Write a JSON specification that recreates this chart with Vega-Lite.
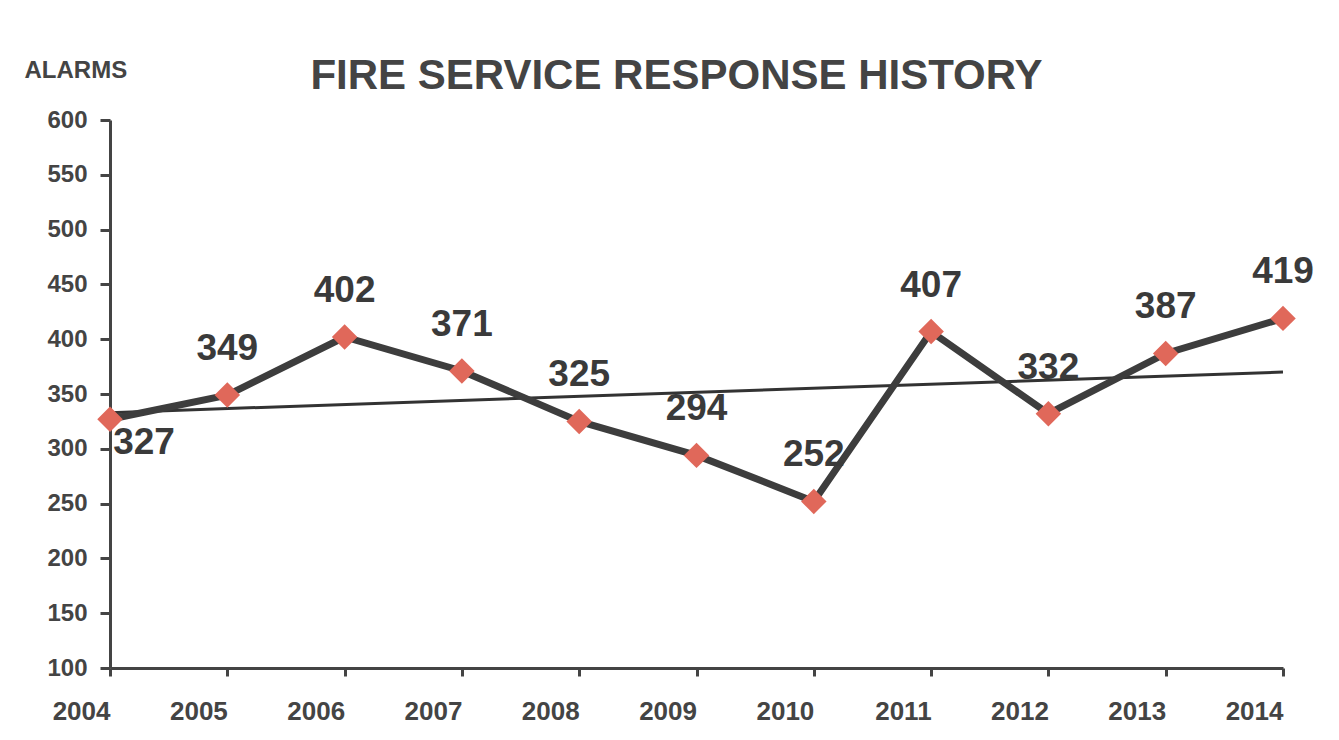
{
  "$schema": "https://vega.github.io/schema/vega-lite/v6.json",
  "width": 1173,
  "height": 548,
  "autosize": {"type": "none"},
  "padding": {"left": 110, "top": 120, "right": 56, "bottom": 72},
  "background": "white",
  "title": {
    "text": "FIRE SERVICE RESPONSE HISTORY",
    "font": "Liberation Sans",
    "fontSize": 42,
    "fontWeight": "bold",
    "color": "#444444",
    "anchor": "middle",
    "dx": -20,
    "offset": -40
  },
  "datasets": {
    "alarms": [
      {"year": "2004", "alarms": 327},
      {"year": "2005", "alarms": 349},
      {"year": "2006", "alarms": 402},
      {"year": "2007", "alarms": 371},
      {"year": "2008", "alarms": 325},
      {"year": "2009", "alarms": 294},
      {"year": "2010", "alarms": 252},
      {"year": "2011", "alarms": 407},
      {"year": "2012", "alarms": 332},
      {"year": "2013", "alarms": 387},
      {"year": "2014", "alarms": 419}
    ],
    "trend": [
      {"year": "2004", "trend": 333},
      {"year": "2014", "trend": 370}
    ]
  },
  "config": {
    "view": {"stroke": null},
    "font": "Liberation Sans"
  },
  "layer": [
    {
      "data": {"name": "trend"},
      "mark": {"type": "line", "color": "#333333", "strokeWidth": 3},
      "encoding": {
        "x": {"field": "year", "type": "ordinal"},
        "y": {"field": "trend", "type": "quantitative"}
      }
    },
    {
      "data": {"name": "alarms"},
      "mark": {"type": "line", "color": "#3d3d3d", "strokeWidth": 7},
      "encoding": {
        "x": {
          "field": "year",
          "type": "ordinal",
          "scale": {"type": "point", "padding": 0},
          "axis": {
            "title": null,
            "labelAngle": 0,
            "labelFont": "Liberation Sans",
            "labelFontSize": 26,
            "labelFontWeight": "bold",
            "labelColor": "#444444",
            "labelPadding": 22,
            "labelBaseline": "top",
            "domainColor": "#444444",
            "domainWidth": 3,
            "tickColor": "#444444",
            "tickWidth": 3,
            "tickSize": 8
          }
        },
        "y": {
          "field": "alarms",
          "type": "quantitative",
          "scale": {"domain": [100, 600], "nice": false, "zero": false},
          "axis": {
            "title": "ALARMS",
            "titleAngle": 0,
            "titleFont": "Liberation Sans",
            "titleFontSize": 24,
            "titleFontWeight": "bold",
            "titleColor": "#444444",
            "titleX": -86,
            "titleY": -50,
            "titleAlign": "left",
            "titleBaseline": "middle",
            "values": [100, 150, 200, 250, 300, 350, 400, 450, 500, 550, 600],
            "grid": false,
            "labelFont": "Liberation Sans",
            "labelFontSize": 24,
            "labelFontWeight": "bold",
            "labelColor": "#444444",
            "labelPadding": 13,
            "domainColor": "#444444",
            "domainWidth": 3,
            "tickColor": "#444444",
            "tickWidth": 3,
            "tickSize": 10
          }
        }
      }
    },
    {
      "data": {"name": "alarms"},
      "mark": {"type": "point", "shape": "diamond", "filled": true, "size": 650, "color": "#e0685a", "opacity": 1},
      "encoding": {
        "x": {"field": "year", "type": "ordinal"},
        "y": {"field": "alarms", "type": "quantitative"}
      }
    },
    {
      "data": {"name": "alarms"},
      "transform": [{"filter": "datum.year != '2004'"}],
      "mark": {"type": "text", "fontSize": 37, "fontWeight": "bold", "color": "#3a3a3a", "baseline": "middle", "dy": -46},
      "encoding": {
        "x": {"field": "year", "type": "ordinal"},
        "y": {"field": "alarms", "type": "quantitative"},
        "text": {"field": "alarms", "type": "quantitative"}
      }
    },
    {
      "data": {"name": "alarms"},
      "transform": [{"filter": "datum.year == '2004'"}],
      "mark": {"type": "text", "fontSize": 37, "fontWeight": "bold", "color": "#3a3a3a", "baseline": "middle", "dx": 34, "dy": 24},
      "encoding": {
        "x": {"field": "year", "type": "ordinal"},
        "y": {"field": "alarms", "type": "quantitative"},
        "text": {"field": "alarms", "type": "quantitative"}
      }
    }
  ]
}
